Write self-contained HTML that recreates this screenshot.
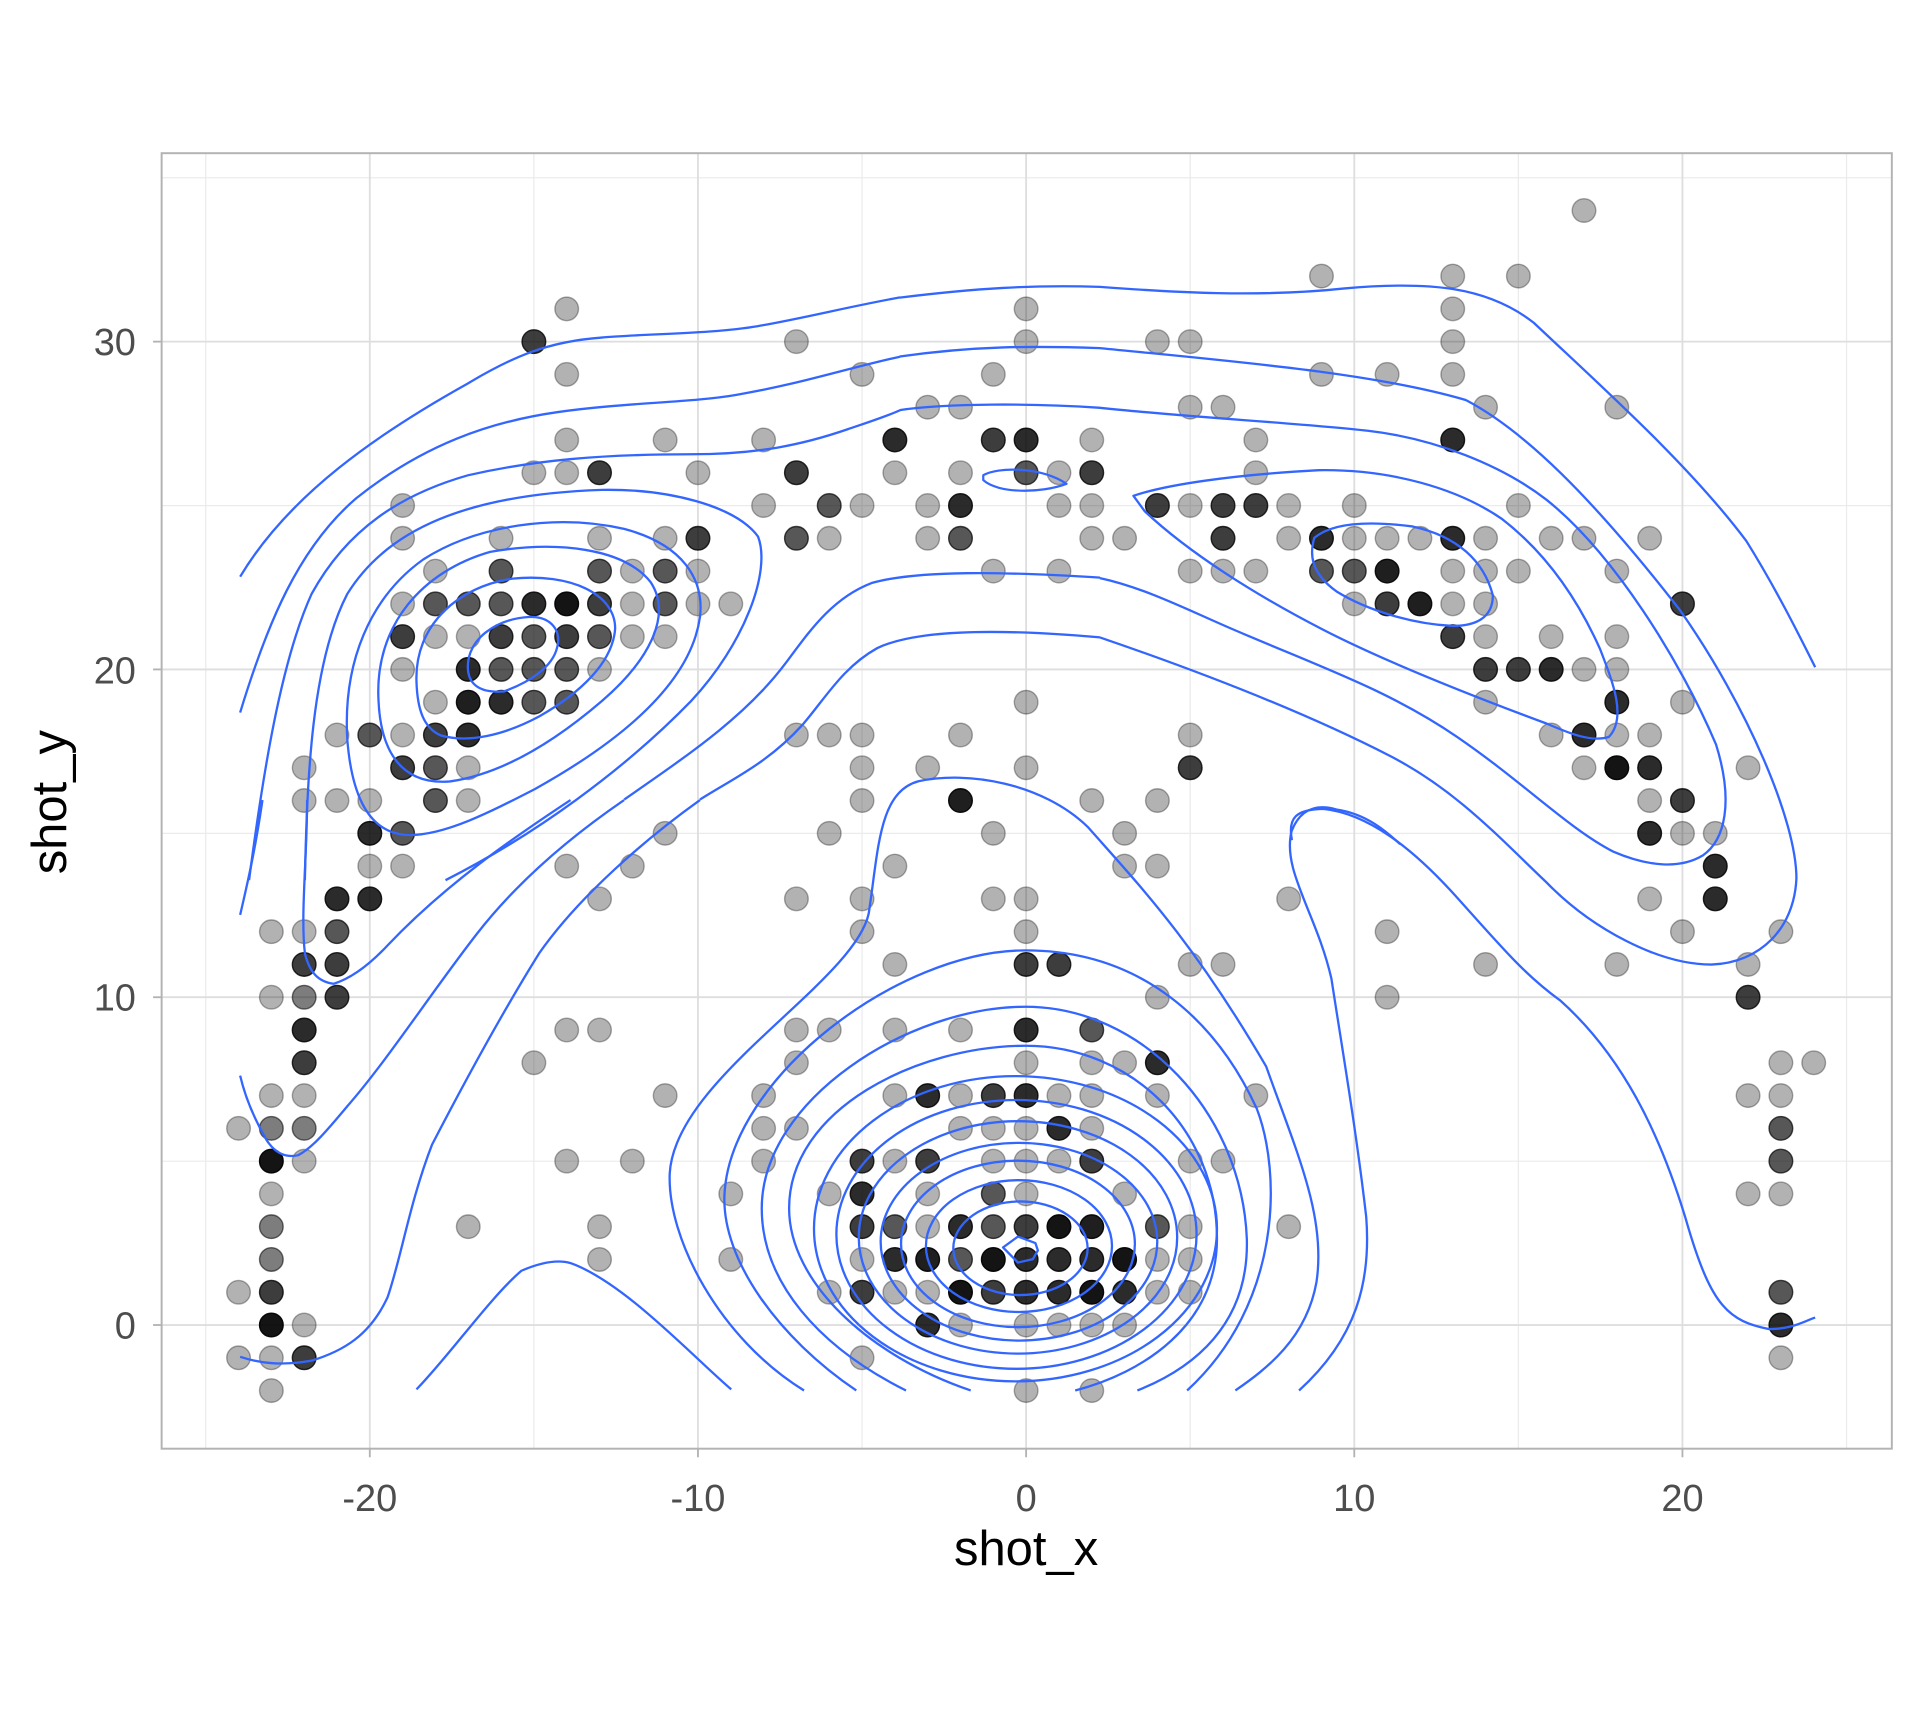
<!DOCTYPE html>
<html><head><meta charset="utf-8"><style>
html,body{margin:0;padding:0;background:#fff;}
svg{display:block;}
text{font-family:"Liberation Sans",Arial,sans-serif;}
#pts circle{fill:#000;stroke:#000;stroke-width:1.4;}
.c1{fill-opacity:.3;stroke-opacity:.32}
.c2{fill-opacity:.51;stroke-opacity:.55}
.c3{fill-opacity:.66;stroke-opacity:.7}
.c4{fill-opacity:.76;stroke-opacity:.8}
.c5{fill-opacity:.83;stroke-opacity:.86}
.c6{fill-opacity:.88;stroke-opacity:.9}
.c7{fill-opacity:.92;stroke-opacity:.94}
</style></head><body>
<svg xmlns="http://www.w3.org/2000/svg" width="1920" height="1728" viewBox="0 0 1568 1411">
<rect x="0" y="0" width="1568" height="1411" fill="#fff"/>
<g stroke="#ebebeb" stroke-width="1">
<line x1="168" y1="125" x2="168" y2="1183"/><line x1="436" y1="125" x2="436" y2="1183"/><line x1="704" y1="125" x2="704" y2="1183"/><line x1="972" y1="125" x2="972" y2="1183"/><line x1="1240" y1="125" x2="1240" y2="1183"/><line x1="1508" y1="125" x2="1508" y2="1183"/>
<line x1="132" y1="948.2" x2="1545" y2="948.2"/><line x1="132" y1="680.5" x2="1545" y2="680.5"/><line x1="132" y1="412.8" x2="1545" y2="412.8"/><line x1="132" y1="145.1" x2="1545" y2="145.1"/>
</g>
<g stroke="#dedede" stroke-width="1.5">
<line x1="302" y1="125" x2="302" y2="1183"/><line x1="570" y1="125" x2="570" y2="1183"/><line x1="838" y1="125" x2="838" y2="1183"/><line x1="1106" y1="125" x2="1106" y2="1183"/><line x1="1374" y1="125" x2="1374" y2="1183"/>
<line x1="132" y1="1082" x2="1545" y2="1082"/><line x1="132" y1="814.3" x2="1545" y2="814.3"/><line x1="132" y1="546.6" x2="1545" y2="546.6"/><line x1="132" y1="278.9" x2="1545" y2="278.9"/>
</g>
<g id="pts" transform="matrix(26.8,0,0,-26.77,838,1082)">
<g>
<circle vector-effect="non-scaling-stroke" r=".36" cx="-24" cy="6" class="c1"/><circle vector-effect="non-scaling-stroke" r=".36" cx="-24" cy="1" class="c1"/><circle vector-effect="non-scaling-stroke" r=".36" cx="-24" cy="-1" class="c1"/>
<circle vector-effect="non-scaling-stroke" r=".36" cx="-23" cy="12" class="c1"/><circle vector-effect="non-scaling-stroke" r=".36" cx="-23" cy="10" class="c1"/><circle vector-effect="non-scaling-stroke" r=".36" cx="-23" cy="7" class="c1"/><circle vector-effect="non-scaling-stroke" r=".36" cx="-23" cy="6" class="c2"/><circle vector-effect="non-scaling-stroke" r=".36" cx="-23" cy="5" class="c7"/><circle vector-effect="non-scaling-stroke" r=".36" cx="-23" cy="4" class="c1"/><circle vector-effect="non-scaling-stroke" r=".36" cx="-23" cy="3" class="c2"/><circle vector-effect="non-scaling-stroke" r=".36" cx="-23" cy="2" class="c2"/><circle vector-effect="non-scaling-stroke" r=".36" cx="-23" cy="1" class="c4"/><circle vector-effect="non-scaling-stroke" r=".36" cx="-23" cy="0" class="c7"/><circle vector-effect="non-scaling-stroke" r=".36" cx="-23" cy="-1" class="c1"/><circle vector-effect="non-scaling-stroke" r=".36" cx="-23" cy="-2" class="c1"/>
<circle vector-effect="non-scaling-stroke" r=".36" cx="-22" cy="17" class="c1"/><circle vector-effect="non-scaling-stroke" r=".36" cx="-22" cy="16" class="c1"/><circle vector-effect="non-scaling-stroke" r=".36" cx="-22" cy="12" class="c1"/><circle vector-effect="non-scaling-stroke" r=".36" cx="-22" cy="11" class="c4"/><circle vector-effect="non-scaling-stroke" r=".36" cx="-22" cy="10" class="c2"/><circle vector-effect="non-scaling-stroke" r=".36" cx="-22" cy="9" class="c5"/><circle vector-effect="non-scaling-stroke" r=".36" cx="-22" cy="8" class="c4"/><circle vector-effect="non-scaling-stroke" r=".36" cx="-22" cy="7" class="c1"/><circle vector-effect="non-scaling-stroke" r=".36" cx="-22" cy="6" class="c2"/><circle vector-effect="non-scaling-stroke" r=".36" cx="-22" cy="5" class="c1"/><circle vector-effect="non-scaling-stroke" r=".36" cx="-22" cy="0" class="c1"/><circle vector-effect="non-scaling-stroke" r=".36" cx="-22" cy="-1" class="c4"/>
<circle vector-effect="non-scaling-stroke" r=".36" cx="-21" cy="18" class="c1"/><circle vector-effect="non-scaling-stroke" r=".36" cx="-21" cy="16" class="c1"/><circle vector-effect="non-scaling-stroke" r=".36" cx="-21" cy="13" class="c5"/><circle vector-effect="non-scaling-stroke" r=".36" cx="-21" cy="12" class="c3"/><circle vector-effect="non-scaling-stroke" r=".36" cx="-21" cy="11" class="c4"/><circle vector-effect="non-scaling-stroke" r=".36" cx="-21" cy="10" class="c4"/>
<circle vector-effect="non-scaling-stroke" r=".36" cx="-20" cy="18" class="c3"/><circle vector-effect="non-scaling-stroke" r=".36" cx="-20" cy="16" class="c1"/><circle vector-effect="non-scaling-stroke" r=".36" cx="-20" cy="15" class="c5"/><circle vector-effect="non-scaling-stroke" r=".36" cx="-20" cy="14" class="c1"/><circle vector-effect="non-scaling-stroke" r=".36" cx="-20" cy="13" class="c5"/>
<circle vector-effect="non-scaling-stroke" r=".36" cx="-19" cy="25" class="c1"/><circle vector-effect="non-scaling-stroke" r=".36" cx="-19" cy="24" class="c1"/><circle vector-effect="non-scaling-stroke" r=".36" cx="-19" cy="22" class="c1"/><circle vector-effect="non-scaling-stroke" r=".36" cx="-19" cy="21" class="c4"/><circle vector-effect="non-scaling-stroke" r=".36" cx="-19" cy="20" class="c1"/><circle vector-effect="non-scaling-stroke" r=".36" cx="-19" cy="18" class="c1"/><circle vector-effect="non-scaling-stroke" r=".36" cx="-19" cy="17" class="c4"/><circle vector-effect="non-scaling-stroke" r=".36" cx="-19" cy="15" class="c3"/><circle vector-effect="non-scaling-stroke" r=".36" cx="-19" cy="14" class="c1"/>
<circle vector-effect="non-scaling-stroke" r=".36" cx="-18" cy="23" class="c1"/><circle vector-effect="non-scaling-stroke" r=".36" cx="-18" cy="22" class="c3"/><circle vector-effect="non-scaling-stroke" r=".36" cx="-18" cy="21" class="c1"/><circle vector-effect="non-scaling-stroke" r=".36" cx="-18" cy="19" class="c1"/><circle vector-effect="non-scaling-stroke" r=".36" cx="-18" cy="18" class="c4"/><circle vector-effect="non-scaling-stroke" r=".36" cx="-18" cy="17" class="c3"/><circle vector-effect="non-scaling-stroke" r=".36" cx="-18" cy="16" class="c3"/>
<circle vector-effect="non-scaling-stroke" r=".36" cx="-17" cy="22" class="c3"/><circle vector-effect="non-scaling-stroke" r=".36" cx="-17" cy="21" class="c1"/><circle vector-effect="non-scaling-stroke" r=".36" cx="-17" cy="20" class="c5"/><circle vector-effect="non-scaling-stroke" r=".36" cx="-17" cy="19" class="c6"/><circle vector-effect="non-scaling-stroke" r=".36" cx="-17" cy="18" class="c5"/><circle vector-effect="non-scaling-stroke" r=".36" cx="-17" cy="17" class="c1"/><circle vector-effect="non-scaling-stroke" r=".36" cx="-17" cy="16" class="c1"/><circle vector-effect="non-scaling-stroke" r=".36" cx="-17" cy="3" class="c1"/>
<circle vector-effect="non-scaling-stroke" r=".36" cx="-16" cy="24" class="c1"/><circle vector-effect="non-scaling-stroke" r=".36" cx="-16" cy="23" class="c3"/><circle vector-effect="non-scaling-stroke" r=".36" cx="-16" cy="22" class="c3"/><circle vector-effect="non-scaling-stroke" r=".36" cx="-16" cy="21" class="c4"/><circle vector-effect="non-scaling-stroke" r=".36" cx="-16" cy="20" class="c3"/><circle vector-effect="non-scaling-stroke" r=".36" cx="-16" cy="19" class="c5"/>
<circle vector-effect="non-scaling-stroke" r=".36" cx="-15" cy="30" class="c4"/><circle vector-effect="non-scaling-stroke" r=".36" cx="-15" cy="26" class="c1"/><circle vector-effect="non-scaling-stroke" r=".36" cx="-15" cy="22" class="c5"/><circle vector-effect="non-scaling-stroke" r=".36" cx="-15" cy="21" class="c3"/><circle vector-effect="non-scaling-stroke" r=".36" cx="-15" cy="20" class="c3"/><circle vector-effect="non-scaling-stroke" r=".36" cx="-15" cy="19" class="c3"/><circle vector-effect="non-scaling-stroke" r=".36" cx="-15" cy="8" class="c1"/>
<circle vector-effect="non-scaling-stroke" r=".36" cx="-14" cy="31" class="c1"/><circle vector-effect="non-scaling-stroke" r=".36" cx="-14" cy="29" class="c1"/><circle vector-effect="non-scaling-stroke" r=".36" cx="-14" cy="27" class="c1"/><circle vector-effect="non-scaling-stroke" r=".36" cx="-14" cy="26" class="c1"/><circle vector-effect="non-scaling-stroke" r=".36" cx="-14" cy="22" class="c7"/><circle vector-effect="non-scaling-stroke" r=".36" cx="-14" cy="21" class="c4"/><circle vector-effect="non-scaling-stroke" r=".36" cx="-14" cy="20" class="c3"/><circle vector-effect="non-scaling-stroke" r=".36" cx="-14" cy="19" class="c3"/><circle vector-effect="non-scaling-stroke" r=".36" cx="-14" cy="14" class="c1"/><circle vector-effect="non-scaling-stroke" r=".36" cx="-14" cy="9" class="c1"/><circle vector-effect="non-scaling-stroke" r=".36" cx="-14" cy="5" class="c1"/>
<circle vector-effect="non-scaling-stroke" r=".36" cx="-13" cy="26" class="c4"/><circle vector-effect="non-scaling-stroke" r=".36" cx="-13" cy="24" class="c1"/><circle vector-effect="non-scaling-stroke" r=".36" cx="-13" cy="23" class="c3"/><circle vector-effect="non-scaling-stroke" r=".36" cx="-13" cy="22" class="c4"/><circle vector-effect="non-scaling-stroke" r=".36" cx="-13" cy="21" class="c3"/><circle vector-effect="non-scaling-stroke" r=".36" cx="-13" cy="20" class="c1"/><circle vector-effect="non-scaling-stroke" r=".36" cx="-13" cy="13" class="c1"/><circle vector-effect="non-scaling-stroke" r=".36" cx="-13" cy="9" class="c1"/><circle vector-effect="non-scaling-stroke" r=".36" cx="-13" cy="3" class="c1"/><circle vector-effect="non-scaling-stroke" r=".36" cx="-13" cy="2" class="c1"/>
<circle vector-effect="non-scaling-stroke" r=".36" cx="-12" cy="23" class="c1"/><circle vector-effect="non-scaling-stroke" r=".36" cx="-12" cy="22" class="c1"/><circle vector-effect="non-scaling-stroke" r=".36" cx="-12" cy="21" class="c1"/><circle vector-effect="non-scaling-stroke" r=".36" cx="-12" cy="14" class="c1"/><circle vector-effect="non-scaling-stroke" r=".36" cx="-12" cy="5" class="c1"/>
<circle vector-effect="non-scaling-stroke" r=".36" cx="-11" cy="27" class="c1"/><circle vector-effect="non-scaling-stroke" r=".36" cx="-11" cy="24" class="c1"/><circle vector-effect="non-scaling-stroke" r=".36" cx="-11" cy="23" class="c3"/><circle vector-effect="non-scaling-stroke" r=".36" cx="-11" cy="22" class="c3"/><circle vector-effect="non-scaling-stroke" r=".36" cx="-11" cy="21" class="c1"/><circle vector-effect="non-scaling-stroke" r=".36" cx="-11" cy="15" class="c1"/><circle vector-effect="non-scaling-stroke" r=".36" cx="-11" cy="7" class="c1"/>
<circle vector-effect="non-scaling-stroke" r=".36" cx="-10" cy="26" class="c1"/><circle vector-effect="non-scaling-stroke" r=".36" cx="-10" cy="24" class="c4"/><circle vector-effect="non-scaling-stroke" r=".36" cx="-10" cy="23" class="c1"/><circle vector-effect="non-scaling-stroke" r=".36" cx="-10" cy="22" class="c1"/>
<circle vector-effect="non-scaling-stroke" r=".36" cx="-9" cy="22" class="c1"/><circle vector-effect="non-scaling-stroke" r=".36" cx="-9" cy="4" class="c1"/><circle vector-effect="non-scaling-stroke" r=".36" cx="-9" cy="2" class="c1"/>
<circle vector-effect="non-scaling-stroke" r=".36" cx="-8" cy="27" class="c1"/><circle vector-effect="non-scaling-stroke" r=".36" cx="-8" cy="25" class="c1"/><circle vector-effect="non-scaling-stroke" r=".36" cx="-8" cy="7" class="c1"/><circle vector-effect="non-scaling-stroke" r=".36" cx="-8" cy="6" class="c1"/><circle vector-effect="non-scaling-stroke" r=".36" cx="-8" cy="5" class="c1"/>
<circle vector-effect="non-scaling-stroke" r=".36" cx="-7" cy="30" class="c1"/><circle vector-effect="non-scaling-stroke" r=".36" cx="-7" cy="26" class="c4"/><circle vector-effect="non-scaling-stroke" r=".36" cx="-7" cy="24" class="c3"/><circle vector-effect="non-scaling-stroke" r=".36" cx="-7" cy="18" class="c1"/><circle vector-effect="non-scaling-stroke" r=".36" cx="-7" cy="13" class="c1"/><circle vector-effect="non-scaling-stroke" r=".36" cx="-7" cy="9" class="c1"/><circle vector-effect="non-scaling-stroke" r=".36" cx="-7" cy="8" class="c1"/><circle vector-effect="non-scaling-stroke" r=".36" cx="-7" cy="6" class="c1"/>
<circle vector-effect="non-scaling-stroke" r=".36" cx="-6" cy="25" class="c3"/><circle vector-effect="non-scaling-stroke" r=".36" cx="-6" cy="24" class="c1"/><circle vector-effect="non-scaling-stroke" r=".36" cx="-6" cy="18" class="c1"/><circle vector-effect="non-scaling-stroke" r=".36" cx="-6" cy="15" class="c1"/><circle vector-effect="non-scaling-stroke" r=".36" cx="-6" cy="9" class="c1"/><circle vector-effect="non-scaling-stroke" r=".36" cx="-6" cy="4" class="c1"/><circle vector-effect="non-scaling-stroke" r=".36" cx="-6" cy="1" class="c1"/>
<circle vector-effect="non-scaling-stroke" r=".36" cx="-5" cy="29" class="c1"/><circle vector-effect="non-scaling-stroke" r=".36" cx="-5" cy="25" class="c1"/><circle vector-effect="non-scaling-stroke" r=".36" cx="-5" cy="18" class="c1"/><circle vector-effect="non-scaling-stroke" r=".36" cx="-5" cy="17" class="c1"/><circle vector-effect="non-scaling-stroke" r=".36" cx="-5" cy="16" class="c1"/><circle vector-effect="non-scaling-stroke" r=".36" cx="-5" cy="13" class="c1"/><circle vector-effect="non-scaling-stroke" r=".36" cx="-5" cy="12" class="c1"/><circle vector-effect="non-scaling-stroke" r=".36" cx="-5" cy="5" class="c4"/><circle vector-effect="non-scaling-stroke" r=".36" cx="-5" cy="4" class="c5"/><circle vector-effect="non-scaling-stroke" r=".36" cx="-5" cy="3" class="c4"/><circle vector-effect="non-scaling-stroke" r=".36" cx="-5" cy="2" class="c1"/><circle vector-effect="non-scaling-stroke" r=".36" cx="-5" cy="1" class="c4"/><circle vector-effect="non-scaling-stroke" r=".36" cx="-5" cy="-1" class="c1"/>
<circle vector-effect="non-scaling-stroke" r=".36" cx="-4" cy="27" class="c5"/><circle vector-effect="non-scaling-stroke" r=".36" cx="-4" cy="26" class="c1"/><circle vector-effect="non-scaling-stroke" r=".36" cx="-4" cy="14" class="c1"/><circle vector-effect="non-scaling-stroke" r=".36" cx="-4" cy="11" class="c1"/><circle vector-effect="non-scaling-stroke" r=".36" cx="-4" cy="9" class="c1"/><circle vector-effect="non-scaling-stroke" r=".36" cx="-4" cy="7" class="c1"/><circle vector-effect="non-scaling-stroke" r=".36" cx="-4" cy="5" class="c1"/><circle vector-effect="non-scaling-stroke" r=".36" cx="-4" cy="3" class="c3"/><circle vector-effect="non-scaling-stroke" r=".36" cx="-4" cy="2" class="c5"/><circle vector-effect="non-scaling-stroke" r=".36" cx="-4" cy="1" class="c1"/>
<circle vector-effect="non-scaling-stroke" r=".36" cx="-3" cy="28" class="c1"/><circle vector-effect="non-scaling-stroke" r=".36" cx="-3" cy="25" class="c1"/><circle vector-effect="non-scaling-stroke" r=".36" cx="-3" cy="24" class="c1"/><circle vector-effect="non-scaling-stroke" r=".36" cx="-3" cy="17" class="c1"/><circle vector-effect="non-scaling-stroke" r=".36" cx="-3" cy="7" class="c5"/><circle vector-effect="non-scaling-stroke" r=".36" cx="-3" cy="5" class="c4"/><circle vector-effect="non-scaling-stroke" r=".36" cx="-3" cy="4" class="c1"/><circle vector-effect="non-scaling-stroke" r=".36" cx="-3" cy="3" class="c1"/><circle vector-effect="non-scaling-stroke" r=".36" cx="-3" cy="2" class="c6"/><circle vector-effect="non-scaling-stroke" r=".36" cx="-3" cy="1" class="c1"/><circle vector-effect="non-scaling-stroke" r=".36" cx="-3" cy="0" class="c5"/>
<circle vector-effect="non-scaling-stroke" r=".36" cx="-2" cy="28" class="c1"/><circle vector-effect="non-scaling-stroke" r=".36" cx="-2" cy="26" class="c1"/><circle vector-effect="non-scaling-stroke" r=".36" cx="-2" cy="25" class="c5"/><circle vector-effect="non-scaling-stroke" r=".36" cx="-2" cy="24" class="c3"/><circle vector-effect="non-scaling-stroke" r=".36" cx="-2" cy="18" class="c1"/><circle vector-effect="non-scaling-stroke" r=".36" cx="-2" cy="16" class="c6"/><circle vector-effect="non-scaling-stroke" r=".36" cx="-2" cy="9" class="c1"/><circle vector-effect="non-scaling-stroke" r=".36" cx="-2" cy="7" class="c1"/><circle vector-effect="non-scaling-stroke" r=".36" cx="-2" cy="6" class="c1"/><circle vector-effect="non-scaling-stroke" r=".36" cx="-2" cy="3" class="c5"/><circle vector-effect="non-scaling-stroke" r=".36" cx="-2" cy="2" class="c3"/><circle vector-effect="non-scaling-stroke" r=".36" cx="-2" cy="1" class="c7"/><circle vector-effect="non-scaling-stroke" r=".36" cx="-2" cy="0" class="c1"/>
<circle vector-effect="non-scaling-stroke" r=".36" cx="-1" cy="29" class="c1"/><circle vector-effect="non-scaling-stroke" r=".36" cx="-1" cy="27" class="c4"/><circle vector-effect="non-scaling-stroke" r=".36" cx="-1" cy="23" class="c1"/><circle vector-effect="non-scaling-stroke" r=".36" cx="-1" cy="15" class="c1"/><circle vector-effect="non-scaling-stroke" r=".36" cx="-1" cy="13" class="c1"/><circle vector-effect="non-scaling-stroke" r=".36" cx="-1" cy="7" class="c4"/><circle vector-effect="non-scaling-stroke" r=".36" cx="-1" cy="6" class="c1"/><circle vector-effect="non-scaling-stroke" r=".36" cx="-1" cy="5" class="c1"/><circle vector-effect="non-scaling-stroke" r=".36" cx="-1" cy="4" class="c3"/><circle vector-effect="non-scaling-stroke" r=".36" cx="-1" cy="3" class="c3"/><circle vector-effect="non-scaling-stroke" r=".36" cx="-1" cy="2" class="c7"/><circle vector-effect="non-scaling-stroke" r=".36" cx="-1" cy="1" class="c4"/>
<circle vector-effect="non-scaling-stroke" r=".36" cx="0" cy="31" class="c1"/><circle vector-effect="non-scaling-stroke" r=".36" cx="0" cy="30" class="c1"/><circle vector-effect="non-scaling-stroke" r=".36" cx="0" cy="27" class="c5"/><circle vector-effect="non-scaling-stroke" r=".36" cx="0" cy="26" class="c3"/><circle vector-effect="non-scaling-stroke" r=".36" cx="0" cy="19" class="c1"/><circle vector-effect="non-scaling-stroke" r=".36" cx="0" cy="17" class="c1"/><circle vector-effect="non-scaling-stroke" r=".36" cx="0" cy="13" class="c1"/><circle vector-effect="non-scaling-stroke" r=".36" cx="0" cy="12" class="c1"/><circle vector-effect="non-scaling-stroke" r=".36" cx="0" cy="11" class="c4"/><circle vector-effect="non-scaling-stroke" r=".36" cx="0" cy="9" class="c5"/><circle vector-effect="non-scaling-stroke" r=".36" cx="0" cy="8" class="c1"/><circle vector-effect="non-scaling-stroke" r=".36" cx="0" cy="7" class="c5"/><circle vector-effect="non-scaling-stroke" r=".36" cx="0" cy="6" class="c1"/><circle vector-effect="non-scaling-stroke" r=".36" cx="0" cy="5" class="c1"/><circle vector-effect="non-scaling-stroke" r=".36" cx="0" cy="4" class="c1"/><circle vector-effect="non-scaling-stroke" r=".36" cx="0" cy="3" class="c4"/><circle vector-effect="non-scaling-stroke" r=".36" cx="0" cy="2" class="c5"/><circle vector-effect="non-scaling-stroke" r=".36" cx="0" cy="1" class="c5"/><circle vector-effect="non-scaling-stroke" r=".36" cx="0" cy="0" class="c1"/><circle vector-effect="non-scaling-stroke" r=".36" cx="0" cy="-2" class="c1"/>
<circle vector-effect="non-scaling-stroke" r=".36" cx="1" cy="26" class="c1"/><circle vector-effect="non-scaling-stroke" r=".36" cx="1" cy="25" class="c1"/><circle vector-effect="non-scaling-stroke" r=".36" cx="1" cy="23" class="c1"/><circle vector-effect="non-scaling-stroke" r=".36" cx="1" cy="11" class="c4"/><circle vector-effect="non-scaling-stroke" r=".36" cx="1" cy="7" class="c1"/><circle vector-effect="non-scaling-stroke" r=".36" cx="1" cy="6" class="c5"/><circle vector-effect="non-scaling-stroke" r=".36" cx="1" cy="5" class="c1"/><circle vector-effect="non-scaling-stroke" r=".36" cx="1" cy="3" class="c7"/><circle vector-effect="non-scaling-stroke" r=".36" cx="1" cy="2" class="c5"/><circle vector-effect="non-scaling-stroke" r=".36" cx="1" cy="1" class="c5"/><circle vector-effect="non-scaling-stroke" r=".36" cx="1" cy="0" class="c1"/>
<circle vector-effect="non-scaling-stroke" r=".36" cx="2" cy="27" class="c1"/><circle vector-effect="non-scaling-stroke" r=".36" cx="2" cy="26" class="c4"/><circle vector-effect="non-scaling-stroke" r=".36" cx="2" cy="25" class="c1"/><circle vector-effect="non-scaling-stroke" r=".36" cx="2" cy="24" class="c1"/><circle vector-effect="non-scaling-stroke" r=".36" cx="2" cy="16" class="c1"/><circle vector-effect="non-scaling-stroke" r=".36" cx="2" cy="9" class="c3"/><circle vector-effect="non-scaling-stroke" r=".36" cx="2" cy="8" class="c1"/><circle vector-effect="non-scaling-stroke" r=".36" cx="2" cy="7" class="c1"/><circle vector-effect="non-scaling-stroke" r=".36" cx="2" cy="6" class="c1"/><circle vector-effect="non-scaling-stroke" r=".36" cx="2" cy="5" class="c4"/><circle vector-effect="non-scaling-stroke" r=".36" cx="2" cy="3" class="c6"/><circle vector-effect="non-scaling-stroke" r=".36" cx="2" cy="2" class="c5"/><circle vector-effect="non-scaling-stroke" r=".36" cx="2" cy="1" class="c7"/><circle vector-effect="non-scaling-stroke" r=".36" cx="2" cy="0" class="c1"/><circle vector-effect="non-scaling-stroke" r=".36" cx="2" cy="-2" class="c1"/>
<circle vector-effect="non-scaling-stroke" r=".36" cx="3" cy="24" class="c1"/><circle vector-effect="non-scaling-stroke" r=".36" cx="3" cy="15" class="c1"/><circle vector-effect="non-scaling-stroke" r=".36" cx="3" cy="14" class="c1"/><circle vector-effect="non-scaling-stroke" r=".36" cx="3" cy="8" class="c1"/><circle vector-effect="non-scaling-stroke" r=".36" cx="3" cy="4" class="c1"/><circle vector-effect="non-scaling-stroke" r=".36" cx="3" cy="2" class="c7"/><circle vector-effect="non-scaling-stroke" r=".36" cx="3" cy="1" class="c5"/><circle vector-effect="non-scaling-stroke" r=".36" cx="3" cy="0" class="c1"/>
<circle vector-effect="non-scaling-stroke" r=".36" cx="4" cy="30" class="c1"/><circle vector-effect="non-scaling-stroke" r=".36" cx="4" cy="25" class="c4"/><circle vector-effect="non-scaling-stroke" r=".36" cx="4" cy="16" class="c1"/><circle vector-effect="non-scaling-stroke" r=".36" cx="4" cy="14" class="c1"/><circle vector-effect="non-scaling-stroke" r=".36" cx="4" cy="10" class="c1"/><circle vector-effect="non-scaling-stroke" r=".36" cx="4" cy="8" class="c5"/><circle vector-effect="non-scaling-stroke" r=".36" cx="4" cy="7" class="c1"/><circle vector-effect="non-scaling-stroke" r=".36" cx="4" cy="3" class="c3"/><circle vector-effect="non-scaling-stroke" r=".36" cx="4" cy="2" class="c1"/><circle vector-effect="non-scaling-stroke" r=".36" cx="4" cy="1" class="c1"/>
<circle vector-effect="non-scaling-stroke" r=".36" cx="5" cy="30" class="c1"/><circle vector-effect="non-scaling-stroke" r=".36" cx="5" cy="28" class="c1"/><circle vector-effect="non-scaling-stroke" r=".36" cx="5" cy="25" class="c1"/><circle vector-effect="non-scaling-stroke" r=".36" cx="5" cy="23" class="c1"/><circle vector-effect="non-scaling-stroke" r=".36" cx="5" cy="18" class="c1"/><circle vector-effect="non-scaling-stroke" r=".36" cx="5" cy="17" class="c4"/><circle vector-effect="non-scaling-stroke" r=".36" cx="5" cy="11" class="c1"/><circle vector-effect="non-scaling-stroke" r=".36" cx="5" cy="5" class="c1"/><circle vector-effect="non-scaling-stroke" r=".36" cx="5" cy="3" class="c1"/><circle vector-effect="non-scaling-stroke" r=".36" cx="5" cy="2" class="c1"/><circle vector-effect="non-scaling-stroke" r=".36" cx="5" cy="1" class="c1"/>
<circle vector-effect="non-scaling-stroke" r=".36" cx="6" cy="28" class="c1"/><circle vector-effect="non-scaling-stroke" r=".36" cx="6" cy="25" class="c4"/><circle vector-effect="non-scaling-stroke" r=".36" cx="6" cy="24" class="c4"/><circle vector-effect="non-scaling-stroke" r=".36" cx="6" cy="23" class="c1"/><circle vector-effect="non-scaling-stroke" r=".36" cx="6" cy="11" class="c1"/><circle vector-effect="non-scaling-stroke" r=".36" cx="6" cy="5" class="c1"/>
<circle vector-effect="non-scaling-stroke" r=".36" cx="7" cy="27" class="c1"/><circle vector-effect="non-scaling-stroke" r=".36" cx="7" cy="26" class="c1"/><circle vector-effect="non-scaling-stroke" r=".36" cx="7" cy="25" class="c4"/><circle vector-effect="non-scaling-stroke" r=".36" cx="7" cy="23" class="c1"/><circle vector-effect="non-scaling-stroke" r=".36" cx="7" cy="7" class="c1"/>
<circle vector-effect="non-scaling-stroke" r=".36" cx="8" cy="25" class="c1"/><circle vector-effect="non-scaling-stroke" r=".36" cx="8" cy="24" class="c1"/><circle vector-effect="non-scaling-stroke" r=".36" cx="8" cy="13" class="c1"/><circle vector-effect="non-scaling-stroke" r=".36" cx="8" cy="3" class="c1"/>
<circle vector-effect="non-scaling-stroke" r=".36" cx="9" cy="32" class="c1"/><circle vector-effect="non-scaling-stroke" r=".36" cx="9" cy="29" class="c1"/><circle vector-effect="non-scaling-stroke" r=".36" cx="9" cy="24" class="c5"/><circle vector-effect="non-scaling-stroke" r=".36" cx="9" cy="23" class="c3"/>
<circle vector-effect="non-scaling-stroke" r=".36" cx="10" cy="25" class="c1"/><circle vector-effect="non-scaling-stroke" r=".36" cx="10" cy="24" class="c1"/><circle vector-effect="non-scaling-stroke" r=".36" cx="10" cy="23" class="c3"/><circle vector-effect="non-scaling-stroke" r=".36" cx="10" cy="22" class="c1"/>
<circle vector-effect="non-scaling-stroke" r=".36" cx="11" cy="29" class="c1"/><circle vector-effect="non-scaling-stroke" r=".36" cx="11" cy="24" class="c1"/><circle vector-effect="non-scaling-stroke" r=".36" cx="11" cy="23" class="c6"/><circle vector-effect="non-scaling-stroke" r=".36" cx="11" cy="22" class="c4"/><circle vector-effect="non-scaling-stroke" r=".36" cx="11" cy="12" class="c1"/><circle vector-effect="non-scaling-stroke" r=".36" cx="11" cy="10" class="c1"/>
<circle vector-effect="non-scaling-stroke" r=".36" cx="12" cy="24" class="c1"/><circle vector-effect="non-scaling-stroke" r=".36" cx="12" cy="22" class="c6"/>
<circle vector-effect="non-scaling-stroke" r=".36" cx="13" cy="32" class="c1"/><circle vector-effect="non-scaling-stroke" r=".36" cx="13" cy="31" class="c1"/><circle vector-effect="non-scaling-stroke" r=".36" cx="13" cy="30" class="c1"/><circle vector-effect="non-scaling-stroke" r=".36" cx="13" cy="29" class="c1"/><circle vector-effect="non-scaling-stroke" r=".36" cx="13" cy="27" class="c5"/><circle vector-effect="non-scaling-stroke" r=".36" cx="13" cy="24" class="c5"/><circle vector-effect="non-scaling-stroke" r=".36" cx="13" cy="23" class="c1"/><circle vector-effect="non-scaling-stroke" r=".36" cx="13" cy="22" class="c1"/><circle vector-effect="non-scaling-stroke" r=".36" cx="13" cy="21" class="c4"/>
<circle vector-effect="non-scaling-stroke" r=".36" cx="14" cy="28" class="c1"/><circle vector-effect="non-scaling-stroke" r=".36" cx="14" cy="24" class="c1"/><circle vector-effect="non-scaling-stroke" r=".36" cx="14" cy="23" class="c1"/><circle vector-effect="non-scaling-stroke" r=".36" cx="14" cy="22" class="c1"/><circle vector-effect="non-scaling-stroke" r=".36" cx="14" cy="21" class="c1"/><circle vector-effect="non-scaling-stroke" r=".36" cx="14" cy="20" class="c4"/><circle vector-effect="non-scaling-stroke" r=".36" cx="14" cy="19" class="c1"/><circle vector-effect="non-scaling-stroke" r=".36" cx="14" cy="11" class="c1"/>
<circle vector-effect="non-scaling-stroke" r=".36" cx="15" cy="32" class="c1"/><circle vector-effect="non-scaling-stroke" r=".36" cx="15" cy="25" class="c1"/><circle vector-effect="non-scaling-stroke" r=".36" cx="15" cy="23" class="c1"/><circle vector-effect="non-scaling-stroke" r=".36" cx="15" cy="20" class="c4"/>
<circle vector-effect="non-scaling-stroke" r=".36" cx="16" cy="24" class="c1"/><circle vector-effect="non-scaling-stroke" r=".36" cx="16" cy="21" class="c1"/><circle vector-effect="non-scaling-stroke" r=".36" cx="16" cy="20" class="c5"/><circle vector-effect="non-scaling-stroke" r=".36" cx="16" cy="18" class="c1"/>
<circle vector-effect="non-scaling-stroke" r=".36" cx="17" cy="34" class="c1"/><circle vector-effect="non-scaling-stroke" r=".36" cx="17" cy="24" class="c1"/><circle vector-effect="non-scaling-stroke" r=".36" cx="17" cy="20" class="c1"/><circle vector-effect="non-scaling-stroke" r=".36" cx="17" cy="18" class="c5"/><circle vector-effect="non-scaling-stroke" r=".36" cx="17" cy="17" class="c1"/>
<circle vector-effect="non-scaling-stroke" r=".36" cx="18" cy="28" class="c1"/><circle vector-effect="non-scaling-stroke" r=".36" cx="18" cy="23" class="c1"/><circle vector-effect="non-scaling-stroke" r=".36" cx="18" cy="21" class="c1"/><circle vector-effect="non-scaling-stroke" r=".36" cx="18" cy="20" class="c1"/><circle vector-effect="non-scaling-stroke" r=".36" cx="18" cy="19" class="c5"/><circle vector-effect="non-scaling-stroke" r=".36" cx="18" cy="18" class="c1"/><circle vector-effect="non-scaling-stroke" r=".36" cx="18" cy="17" class="c7"/><circle vector-effect="non-scaling-stroke" r=".36" cx="18" cy="11" class="c1"/>
<circle vector-effect="non-scaling-stroke" r=".36" cx="19" cy="24" class="c1"/><circle vector-effect="non-scaling-stroke" r=".36" cx="19" cy="18" class="c1"/><circle vector-effect="non-scaling-stroke" r=".36" cx="19" cy="17" class="c5"/><circle vector-effect="non-scaling-stroke" r=".36" cx="19" cy="16" class="c1"/><circle vector-effect="non-scaling-stroke" r=".36" cx="19" cy="15" class="c5"/><circle vector-effect="non-scaling-stroke" r=".36" cx="19" cy="13" class="c1"/>
<circle vector-effect="non-scaling-stroke" r=".36" cx="20" cy="22" class="c4"/><circle vector-effect="non-scaling-stroke" r=".36" cx="20" cy="19" class="c1"/><circle vector-effect="non-scaling-stroke" r=".36" cx="20" cy="16" class="c4"/><circle vector-effect="non-scaling-stroke" r=".36" cx="20" cy="15" class="c1"/><circle vector-effect="non-scaling-stroke" r=".36" cx="20" cy="12" class="c1"/>
<circle vector-effect="non-scaling-stroke" r=".36" cx="21" cy="15" class="c1"/><circle vector-effect="non-scaling-stroke" r=".36" cx="21" cy="14" class="c5"/><circle vector-effect="non-scaling-stroke" r=".36" cx="21" cy="13" class="c5"/>
<circle vector-effect="non-scaling-stroke" r=".36" cx="22" cy="17" class="c1"/><circle vector-effect="non-scaling-stroke" r=".36" cx="22" cy="11" class="c1"/><circle vector-effect="non-scaling-stroke" r=".36" cx="22" cy="10" class="c4"/><circle vector-effect="non-scaling-stroke" r=".36" cx="22" cy="7" class="c1"/><circle vector-effect="non-scaling-stroke" r=".36" cx="22" cy="4" class="c1"/>
<circle vector-effect="non-scaling-stroke" r=".36" cx="23" cy="12" class="c1"/><circle vector-effect="non-scaling-stroke" r=".36" cx="23" cy="8" class="c1"/><circle vector-effect="non-scaling-stroke" r=".36" cx="23" cy="7" class="c1"/><circle vector-effect="non-scaling-stroke" r=".36" cx="23" cy="6" class="c3"/><circle vector-effect="non-scaling-stroke" r=".36" cx="23" cy="5" class="c3"/><circle vector-effect="non-scaling-stroke" r=".36" cx="23" cy="4" class="c1"/><circle vector-effect="non-scaling-stroke" r=".36" cx="23" cy="1" class="c3"/><circle vector-effect="non-scaling-stroke" r=".36" cx="23" cy="0" class="c5"/><circle vector-effect="non-scaling-stroke" r=".36" cx="23" cy="-1" class="c1"/>
<circle vector-effect="non-scaling-stroke" r=".36" cx="24" cy="8" class="c1"/>
</g>
</g>
<g fill="none" stroke="#3366FF" stroke-width="2.3" stroke-linejoin="round">
<g transform="matrix(0.3646,0,0,0.3125,163.3,228.7)">
<path vector-effect="non-scaling-stroke" d="M90,775 C200,560 400,400 600,270 C700,200 780,160 900,150 C1000,140 1150,140 1250,120 C1350,100 1450,70 1568,45"/>
<path vector-effect="non-scaling-stroke" d="M90,1130 C150,900 220,700 350,570 C500,430 650,370 800,345 C950,320 1100,320 1200,300 C1350,270 1450,230 1568,200"/>
<path vector-effect="non-scaling-stroke" d="M110,1568 C140,1300 180,1000 250,820 C330,650 450,560 600,510 C750,470 900,455 1100,455 C1250,455 1350,430 1450,390 C1500,370 1540,355 1568,340"/>
<path vector-effect="non-scaling-stroke" d="M235,1568 C240,1300 250,1000 330,820 C420,650 600,560 900,548 C1050,545 1200,590 1250,670 C1280,760 1220,950 1100,1100 C950,1280 750,1450 550,1568"/>
<path vector-effect="non-scaling-stroke" d="M330,1200 C320,1000 380,830 500,730 C620,640 800,610 950,650 C1080,690 1130,780 1120,880 C1100,1050 950,1200 750,1330 C650,1390 550,1450 470,1450 C380,1450 340,1350 330,1200 Z"/>
<path vector-effect="non-scaling-stroke" d="M400,1100 C390,900 500,760 650,710 C800,680 950,700 1010,790 C1060,880 1000,1000 900,1100 C800,1200 680,1290 560,1310 C450,1320 405,1230 400,1100 Z"/>
<path vector-effect="non-scaling-stroke" d="M485,1050 C480,900 580,800 700,780 C830,765 930,820 930,910 C925,1000 850,1080 760,1140 C680,1190 600,1210 540,1190 C500,1170 487,1120 485,1050 Z"/>
<path vector-effect="non-scaling-stroke" d="M600,1010 C600,940 660,885 740,880 C790,880 810,920 800,960 C790,1010 740,1050 680,1075 C620,1080 600,1050 600,1010 Z"/>
</g>
<g transform="matrix(0.4688,0,0,0.6249,163.3,204.2)">
<path vector-effect="non-scaling-stroke" d="M1219,62 C1350,50 1450,45 1568,48"/>
<path vector-effect="non-scaling-stroke" d="M1219,139 C1350,125 1450,125 1568,128"/>
<path vector-effect="non-scaling-stroke" d="M1219,209 C1300,200 1450,200 1568,206"/>
<path vector-effect="non-scaling-stroke" d="M1568,506 C1400,495 1250,495 1180,520 C1120,545 1090,585 1050,620 C990,670 930,690 871,718"/>
<path vector-effect="non-scaling-stroke" d="M1568,428 C1400,420 1250,418 1170,435 C1100,455 1060,500 1020,540 C950,610 850,660 739,718"/>
</g>
<g transform="matrix(0.4688,0,0,0.6249,816.7,204.2)">
<path vector-effect="non-scaling-stroke" d="M174,48 C300,55 450,62 600,50 C750,40 850,48 930,95 C1050,180 1200,280 1300,380 C1350,440 1390,500 1420,545"/>
<path vector-effect="non-scaling-stroke" d="M174,128 C400,145 650,160 812,196"/>
<path vector-effect="non-scaling-stroke" d="M975,980 C1080,1050 1150,1150 1200,1280 C1240,1380 1270,1400 1340,1410 C1380,1410 1400,1400 1420,1395"/>
</g>
<g transform="matrix(0.3646,0,0,0.3125,898.3,326.7)">
<path vector-effect="non-scaling-stroke" d="M820,0 C950,80 1100,250 1300,550 C1450,800 1560,1100 1560,1250 C1555,1380 1480,1470 1370,1475 C1250,1475 1100,1380 1000,1260 C900,1150 800,1020 650,930 C450,810 200,700 0,620"/>
<path vector-effect="non-scaling-stroke" d="M0,20 C200,45 450,60 600,80 C750,100 900,170 1000,260 C1150,400 1300,680 1380,900 C1420,1050 1400,1150 1350,1190 C1300,1225 1230,1220 1150,1180 C1050,1120 950,1000 800,880 C650,760 500,700 300,600 C200,550 100,490 0,465"/>
<path vector-effect="non-scaling-stroke" d="M75,250 C150,220 300,195 490,183 C650,180 800,230 900,310 C1000,400 1070,520 1120,650 C1150,740 1180,830 1140,880 C1100,895 1050,870 1000,845 C850,780 650,690 500,600 C350,510 200,400 100,290 Z"/>
<path vector-effect="non-scaling-stroke" d="M480,360 C520,320 600,315 700,330 C800,355 860,420 880,510 C880,570 840,590 790,590 C700,585 600,550 530,500 C470,450 470,400 480,360 Z"/>
<path vector-effect="non-scaling-stroke" d="M430,1150 C420,1090 440,1070 500,1068 C600,1080 700,1170 800,1300 C900,1430 950,1500 1030,1568"/>
</g>
<g transform="matrix(0.3646,0,0,0.3125,163.3,653.3)">
<path vector-effect="non-scaling-stroke" d="M1120,0 C1000,100 850,250 760,400 C680,550 600,720 520,900 C470,1050 450,1200 420,1300 C380,1400 320,1440 250,1465 C180,1480 130,1470 90,1455"/>
<path vector-effect="non-scaling-stroke" d="M950,0 C850,80 720,200 620,350 C520,500 420,680 330,800 C280,870 250,910 220,928 C195,935 170,925 150,890 C120,830 100,770 90,720"/>
<path vector-effect="non-scaling-stroke" d="M830,0 C700,100 550,220 420,380 C380,430 340,465 300,480 C265,475 245,450 235,400 C225,300 240,150 240,0"/>
<path vector-effect="non-scaling-stroke" d="M90,300 C110,200 125,120 140,0"/>
<path vector-effect="non-scaling-stroke" d="M485,1540 C560,1450 650,1300 720,1230 C760,1210 800,1200 830,1210 C950,1260 1100,1450 1190,1540"/>
</g>
<g transform="matrix(0.4063,0,0,0.3541,506.3,604.3)">
<path vector-effect="non-scaling-stroke" d="M370,1500 C200,1380 95,1150 100,1000 C110,780 470,560 500,400 C520,250 520,120 600,95 C700,70 850,100 940,200 C1040,330 1150,460 1299,753 C1360,950 1420,1100 1400,1250 C1380,1380 1300,1450 1237,1500"/>
<path vector-effect="non-scaling-stroke" d="M475,1500 C320,1380 205,1200 210,1050 C220,780 560,485 815,485 C1050,485 1200,650 1280,850 C1330,1000 1330,1300 1140,1500"/>
<path vector-effect="non-scaling-stroke" d="M575,1500 C400,1400 285,1250 285,1080 C285,830 580,615 815,615 C1050,615 1250,860 1260,1150 C1265,1350 1150,1450 1040,1500"/>
<path vector-effect="non-scaling-stroke" d="M705,1500 C500,1420 340,1250 340,1080 C340,850 600,705 815,705 C1030,705 1200,900 1200,1150 C1200,1350 1050,1460 915,1500"/>
<path vector-effect="non-scaling-stroke" d="M1365,1500 C1480,1380 1510,1250 1500,1100 C1480,900 1450,700 1430,550 C1400,400 1330,300 1350,210 C1370,150 1410,150 1440,160 C1500,170 1540,210 1568,240"/>
<ellipse vector-effect="non-scaling-stroke" cx="795" cy="1127" rx="405" ry="352"/>
<ellipse vector-effect="non-scaling-stroke" cx="797" cy="1140" rx="362" ry="310"/>
<ellipse vector-effect="non-scaling-stroke" cx="800" cy="1147" rx="320" ry="268"/>
<ellipse vector-effect="non-scaling-stroke" cx="802" cy="1157" rx="278" ry="228"/>
<ellipse vector-effect="non-scaling-stroke" cx="800" cy="1162" rx="235" ry="192"/>
<ellipse vector-effect="non-scaling-stroke" cx="802" cy="1167" rx="187" ry="152"/>
<ellipse vector-effect="non-scaling-stroke" cx="805" cy="1172" rx="135" ry="108"/>
<path vector-effect="non-scaling-stroke" d="M770,1170 L800,1145 L835,1160 L840,1177 L830,1197 L800,1205 Z"/>
</g>
<path d="M803,388 C815,381 850,381 871,395 C850,403 815,403 803,392 Z" stroke-width="1.8"/>
</g>
<rect x="132" y="125" width="1413" height="1058" fill="none" stroke="#b3b3b3" stroke-width="1.6"/>
<g stroke="#b3b3b3" stroke-width="1.5">
<line x1="302" y1="1183" x2="302" y2="1190"/><line x1="570" y1="1183" x2="570" y2="1190"/><line x1="838" y1="1183" x2="838" y2="1190"/><line x1="1106" y1="1183" x2="1106" y2="1190"/><line x1="1374" y1="1183" x2="1374" y2="1190"/>
<line x1="125" y1="1082" x2="132" y2="1082"/><line x1="125" y1="814.3" x2="132" y2="814.3"/><line x1="125" y1="546.6" x2="132" y2="546.6"/><line x1="125" y1="278.9" x2="132" y2="278.9"/>
</g>
<g fill="#4d4d4d" font-size="31" text-anchor="middle">
<text x="302" y="1234">-20</text><text x="570" y="1234">-10</text><text x="838" y="1234">0</text><text x="1106" y="1234">10</text><text x="1374" y="1234">20</text>
</g>
<g fill="#4d4d4d" font-size="31" text-anchor="end">
<text x="111" y="1093">0</text><text x="111" y="825">10</text><text x="111" y="558">20</text><text x="111" y="290">30</text>
</g>
<text x="838" y="1278" font-size="40" text-anchor="middle" fill="#000">shot_x</text>
<text x="0" y="0" font-size="40" text-anchor="middle" fill="#000" transform="translate(54,655) rotate(-90)">shot_y</text>
</svg>
</body></html>
